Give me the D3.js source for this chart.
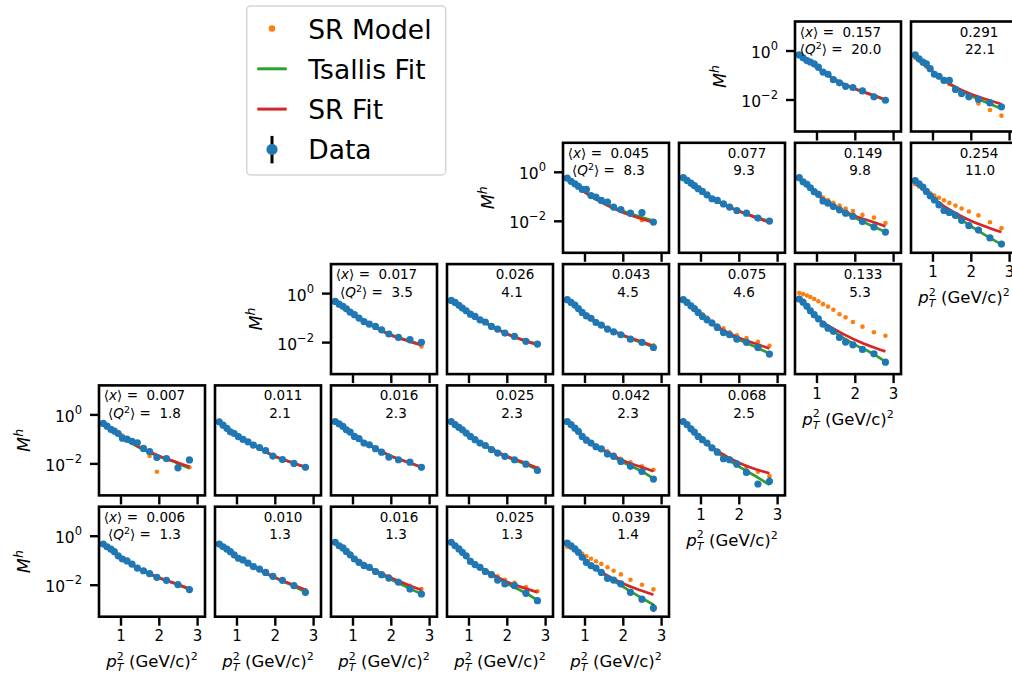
<!DOCTYPE html>
<html>
<head>
<meta charset="utf-8">
<script src="https://cdn.jsdelivr.net/npm/d3@7"></script>
<style>
   body { margin: 0; background: #fff; }
   svg { display: block; font-family: "DejaVu Sans", sans-serif; }
   text { white-space: pre; }
</style>
</head>
<body>
<svg id="chart" width="1012" height="678"></svg>
<script>
/** DATA **/
// p_T^2 bins of the data points (GeV/c)^2
var pT2 = [0.55, 0.65, 0.75, 0.84, 0.94, 1.05, 1.17, 1.3, 1.44, 1.6, 1.76, 1.95, 2.2, 2.5, 2.8];
// p_T^2 where the fit curves were read
var fitPT2 = [0.55, 0.8, 1.1, 1.5, 2.0, 2.5, 2.8];

// one entry per panel, row by row
var panelRow = [0, 0, 1, 1, 1, 1, 2, 2, 2, 2, 2, 3, 3, 3, 3, 3, 3, 4, 4, 4, 4, 4];
var panelCol = [6, 7, 4, 5, 6, 7, 2, 3, 4, 5, 6, 0, 1, 2, 3, 4, 5, 0, 1, 2, 3, 4];
var meanX = [0.157, 0.291, 0.045, 0.077, 0.149, 0.254, 0.017, 0.026, 0.043, 0.075, 0.133,
   0.007, 0.011, 0.016, 0.025, 0.042, 0.068, 0.006, 0.010, 0.016, 0.025, 0.039];
var meanQ2 = [20.0, 22.1, 8.3, 9.3, 9.8, 11.0, 3.5, 4.1, 4.5, 4.6, 5.3,
   1.8, 2.1, 2.3, 2.3, 2.3, 2.5, 1.3, 1.3, 1.3, 1.3, 1.4];

// log10(M^h)
var dataLogM = [
   [-0.18,-0.30,-0.41,-0.47,-0.54,-0.68,-0.88,-0.97,-1.19,-1.32,-1.46,-1.51,-1.65,-1.89,-2.03],
   [-0.18,-0.34,-0.47,-0.54,-0.74,-0.97,-1.05,-1.22,-1.22,-1.59,-1.76,-1.89,-2.00,-2.14,-2.30],
   [-0.26,-0.39,-0.49,-0.59,-0.72,-0.72,-0.97,-1.03,-1.17,-1.24,-1.44,-1.54,-1.69,-1.67,-2.05],
   [-0.24,-0.35,-0.46,-0.56,-0.69,-0.80,-0.94,-1.10,-1.17,-1.31,-1.44,-1.58,-1.69,-1.89,-2.01],
   [-0.24,-0.41,-0.51,-0.65,-0.81,-0.92,-1.19,-1.28,-1.42,-1.55,-1.69,-1.82,-2.03,-2.25,-2.46],
   [-0.36,-0.49,-0.62,-0.80,-0.98,-1.15,-1.35,-1.58,-1.66,-1.78,-1.98,-2.20,-2.38,-2.70,-2.95],
   [-0.34,-0.45,-0.54,-0.64,-0.78,-0.88,-1.02,-1.16,-1.27,-1.36,-1.50,-1.67,-1.81,-1.90,-2.01],
   [-0.30,-0.38,-0.50,-0.61,-0.72,-0.86,-0.95,-1.09,-1.18,-1.36,-1.47,-1.63,-1.77,-1.97,-2.08],
   [-0.27,-0.38,-0.49,-0.63,-0.79,-0.93,-1.03,-1.20,-1.31,-1.47,-1.58,-1.70,-1.88,-2.01,-2.22],
   [-0.27,-0.38,-0.52,-0.63,-0.79,-0.95,-1.09,-1.22,-1.40,-1.61,-1.70,-1.88,-2.01,-2.22,-2.49],
   [-0.24,-0.37,-0.54,-0.72,-0.88,-1.05,-1.27,-1.43,-1.56,-1.81,-2.00,-2.11,-2.30,-2.48,-2.82],
   [-0.37,-0.48,-0.61,-0.68,-0.78,-0.97,-1.01,-1.10,-1.16,-1.39,-1.52,-1.76,-1.80,-2.18,-1.86],
   [-0.30,-0.44,-0.57,-0.71,-0.78,-0.91,-1.02,-1.12,-1.25,-1.35,-1.48,-1.70,-1.84,-2.00,-2.16],
   [-0.29,-0.39,-0.49,-0.63,-0.72,-0.90,-0.99,-1.17,-1.24,-1.40,-1.54,-1.74,-1.85,-1.95,-2.16],
   [-0.29,-0.42,-0.53,-0.63,-0.76,-0.90,-1.03,-1.17,-1.27,-1.44,-1.58,-1.71,-1.85,-2.03,-2.29],
   [-0.29,-0.42,-0.56,-0.69,-0.90,-1.05,-1.17,-1.32,-1.41,-1.62,-1.71,-1.92,-2.12,-2.33,-2.64],
   [-0.29,-0.42,-0.59,-0.72,-0.90,-1.03,-1.17,-1.37,-1.54,-1.81,-1.85,-2.03,-2.37,-2.84,-2.73],
   [-0.34,-0.45,-0.55,-0.65,-0.82,-0.95,-1.03,-1.16,-1.32,-1.43,-1.55,-1.70,-1.82,-2.00,-2.20],
   [-0.34,-0.45,-0.55,-0.65,-0.78,-0.92,-0.99,-1.12,-1.26,-1.36,-1.50,-1.66,-1.82,-2.04,-2.31],
   [-0.27,-0.41,-0.50,-0.64,-0.78,-0.95,-1.09,-1.22,-1.29,-1.46,-1.59,-1.73,-1.90,-2.18,-2.38],
   [-0.27,-0.41,-0.54,-0.68,-0.82,-1.05,-1.18,-1.29,-1.46,-1.59,-1.81,-1.97,-2.04,-2.35,-2.65],
   [-0.30,-0.41,-0.54,-0.68,-0.88,-1.09,-1.22,-1.32,-1.50,-1.74,-1.81,-1.97,-2.31,-2.59,-2.95]
];
var modelLogM = [
   [-0.20,-0.31,-0.41,-0.49,-0.57,-0.69,-0.86,-0.97,-1.15,-1.30,-1.42,-1.53,-1.68,-1.86,-2.02],
   [-0.30,-0.41,-0.55,-0.66,-0.78,-0.95,-1.10,-1.25,-1.38,-1.60,-1.72,-1.90,-2.16,-2.43,-2.66],
   [-0.27,-0.39,-0.50,-0.61,-0.73,-0.82,-0.95,-1.06,-1.19,-1.33,-1.45,-1.58,-1.76,-1.98,-2.08],
   [-0.24,-0.35,-0.46,-0.56,-0.68,-0.80,-0.94,-1.08,-1.19,-1.32,-1.45,-1.57,-1.71,-1.89,-2.04],
   [-0.24,-0.40,-0.50,-0.63,-0.76,-0.88,-1.05,-1.15,-1.27,-1.38,-1.50,-1.60,-1.76,-1.87,-2.09],
   [-0.51,-0.60,-0.70,-0.80,-0.88,-0.97,-1.06,-1.16,-1.27,-1.38,-1.50,-1.62,-1.78,-2.06,-2.30],
   [-0.34,-0.45,-0.55,-0.65,-0.77,-0.90,-1.03,-1.16,-1.28,-1.40,-1.52,-1.63,-1.79,-1.96,-2.18],
   [-0.30,-0.39,-0.50,-0.60,-0.72,-0.85,-0.96,-1.08,-1.19,-1.35,-1.47,-1.62,-1.78,-1.96,-2.10],
   [-0.27,-0.38,-0.49,-0.62,-0.76,-0.88,-1.01,-1.14,-1.28,-1.43,-1.55,-1.68,-1.85,-2.00,-2.13],
   [-0.27,-0.37,-0.49,-0.60,-0.73,-0.86,-1.00,-1.16,-1.31,-1.44,-1.60,-1.72,-1.83,-1.99,-2.15],
   [ 0.00,-0.04,-0.10,-0.16,-0.24,-0.33,-0.45,-0.55,-0.68,-0.86,-0.99,-1.18,-1.37,-1.60,-1.74],
   [-0.37,-0.47,-0.58,-0.68,-0.78,-0.86,-0.99,-1.12,-1.22,-1.38,-1.70,-2.34,-1.86,-2.05,-2.16],
   [-0.30,-0.43,-0.56,-0.68,-0.79,-0.91,-1.02,-1.13,-1.25,-1.37,-1.50,-1.67,-1.83,-2.00,-2.15],
   [-0.29,-0.39,-0.50,-0.62,-0.73,-0.88,-0.99,-1.14,-1.25,-1.39,-1.53,-1.70,-1.84,-1.97,-2.15],
   [-0.29,-0.42,-0.53,-0.63,-0.76,-0.89,-1.02,-1.15,-1.26,-1.42,-1.55,-1.68,-1.82,-1.99,-2.19],
   [-0.29,-0.42,-0.55,-0.68,-0.86,-1.00,-1.13,-1.27,-1.38,-1.51,-1.64,-1.81,-1.95,-2.12,-2.26],
   [-0.30,-0.42,-0.58,-0.71,-0.88,-1.02,-1.16,-1.33,-1.48,-1.68,-1.80,-1.95,-2.15,-2.34,-2.52],
   [-0.35,-0.46,-0.57,-0.67,-0.80,-0.93,-1.05,-1.18,-1.30,-1.45,-1.57,-1.73,-1.85,-2.02,-2.18],
   [-0.34,-0.45,-0.55,-0.65,-0.78,-0.91,-1.00,-1.12,-1.25,-1.37,-1.50,-1.65,-1.80,-2.00,-2.22],
   [-0.27,-0.40,-0.50,-0.62,-0.75,-0.90,-1.03,-1.15,-1.26,-1.42,-1.55,-1.66,-1.84,-2.04,-2.18],
   [-0.27,-0.40,-0.53,-0.66,-0.80,-0.99,-1.12,-1.25,-1.40,-1.53,-1.66,-1.80,-1.92,-2.10,-2.27],
   [-0.45,-0.50,-0.58,-0.65,-0.74,-0.84,-0.94,-1.04,-1.15,-1.29,-1.43,-1.58,-1.80,-2.00,-2.19]
];
var tsallisLogM = [
   [-0.18,-0.47,-0.80,-1.20,-1.56,-1.85,-2.03],
   [-0.18,-0.58,-0.98,-1.42,-1.85,-2.18,-2.38],
   [-0.26,-0.60,-0.92,-1.27,-1.60,-1.86,-2.00],
   [-0.24,-0.60,-0.88,-1.24,-1.60,-1.87,-2.02],
   [-0.24,-0.60,-1.04,-1.46,-1.88,-2.24,-2.46],
   [-0.36,-0.76,-1.20,-1.68,-2.22,-2.70,-2.97],
   [-0.34,-0.64,-0.95,-1.31,-1.70,-1.96,-2.10],
   [-0.30,-0.56,-0.90,-1.25,-1.66,-1.95,-2.08],
   [-0.27,-0.57,-0.97,-1.37,-1.73,-2.03,-2.20],
   [-0.27,-0.58,-1.00,-1.47,-1.90,-2.24,-2.47],
   [-0.24,-0.64,-1.14,-1.62,-2.10,-2.50,-2.80],
   [-0.37,-0.66,-1.00,-1.36,-1.72,-2.00,-2.20],
   [-0.30,-0.65,-0.95,-1.30,-1.72,-2.00,-2.16],
   [-0.29,-0.57,-0.93,-1.30,-1.70,-1.98,-2.16],
   [-0.29,-0.59,-0.96,-1.34,-1.74,-2.04,-2.27],
   [-0.29,-0.64,-1.09,-1.48,-1.95,-2.33,-2.62],
   [-0.29,-0.66,-1.12,-1.62,-2.12,-2.58,-2.87],
   [-0.34,-0.60,-0.99,-1.37,-1.72,-2.00,-2.19],
   [-0.34,-0.60,-0.95,-1.31,-1.72,-2.06,-2.30],
   [-0.27,-0.58,-1.01,-1.37,-1.78,-2.16,-2.38],
   [-0.27,-0.62,-1.10,-1.50,-1.95,-2.35,-2.63],
   [-0.30,-0.62,-1.12,-1.57,-2.08,-2.55,-2.82]
];
var srFitLogM = [
   [-0.18,-0.47,-0.80,-1.20,-1.56,-1.83,-2.00],
   [-0.18,-0.58,-0.98,-1.40,-1.78,-2.04,-2.19],
   [-0.26,-0.60,-0.93,-1.30,-1.66,-1.92,-2.07],
   [-0.24,-0.60,-0.88,-1.25,-1.61,-1.90,-2.07],
   [-0.24,-0.60,-1.03,-1.43,-1.80,-2.06,-2.23],
   [-0.36,-0.75,-1.17,-1.60,-2.00,-2.30,-2.46],
   [-0.34,-0.64,-0.95,-1.32,-1.72,-1.98,-2.13],
   [-0.30,-0.56,-0.90,-1.26,-1.67,-1.96,-2.10],
   [-0.27,-0.57,-0.97,-1.36,-1.71,-1.99,-2.16],
   [-0.27,-0.58,-0.99,-1.43,-1.82,-2.10,-2.26],
   [-0.25,-0.64,-1.12,-1.50,-1.90,-2.22,-2.38],
   [-0.37,-0.66,-0.99,-1.34,-1.69,-1.97,-2.14],
   [-0.30,-0.65,-0.95,-1.30,-1.71,-1.99,-2.15],
   [-0.29,-0.57,-0.93,-1.30,-1.70,-1.98,-2.15],
   [-0.29,-0.59,-0.95,-1.32,-1.71,-1.99,-2.19],
   [-0.29,-0.64,-1.08,-1.46,-1.88,-2.16,-2.32],
   [-0.29,-0.66,-1.10,-1.55,-1.97,-2.27,-2.40],
   [-0.34,-0.60,-0.98,-1.36,-1.71,-1.99,-2.16],
   [-0.34,-0.60,-0.95,-1.31,-1.70,-2.02,-2.21],
   [-0.27,-0.58,-1.00,-1.35,-1.72,-2.04,-2.22],
   [-0.27,-0.62,-1.09,-1.47,-1.88,-2.16,-2.31],
   [-0.30,-0.62,-1.12,-1.54,-1.95,-2.25,-2.41]
];
// visible error bars: [panel, point, half width in log10]
var errBars = [
   [0, 13, 0.08], [1, 13, 0.07], [1, 14, 0.10],
   [5, 11, 0.06], [5, 12, 0.07], [5, 13, 0.10], [5, 14, 0.12],
   [10, 14, 0.10],
   [11, 11, 0.10], [11, 13, 0.12], [11, 14, 0.12],
   [16, 13, 0.10], [16, 14, 0.15],
   [21, 13, 0.08], [21, 14, 0.15]
];

/** LAYOUT **/
var W = 106, H = 110,
   left0 = 99, top0 = 21.5, stepX = 116, stepY = 121.3;
var blue = '#1f77b4', orange = '#ff7f0e', green = '#2ca02c', red = '#d62728';

var svg = d3.select('#chart');

var x = d3.scaleLinear().domain([0.439, 3.206]).range([0, W]);
var y = d3.scaleLog().domain([Math.pow(10, -3.306), Math.pow(10, 1.184)]).range([H, 0]);

var line = d3.line()
   .x(function(d){ return x(d[0]); })
   .y(function(d){ return y(Math.pow(10, d[1])); })
   .curve(d3.curveMonotoneX);

function hasPanel(r, c){
   for (var k = 0; k < panelRow.length; k++) {
      if (panelRow[k] === r && panelCol[k] === c) return true;
   }
   return false;
}

panelRow.forEach(function(row, i){
   var col = panelCol[i];
   var first = !hasPanel(row, col - 1),
      lowest = !hasPanel(row + 1, col);
   var g = svg.append('g')
      .attr('transform', 'translate(' + (left0 + col * stepX) + ',' + (top0 + row * stepY) + ')');

   // SR model
   g.selectAll('circle.model')
      .data(modelLogM[i])
      .enter()
      .append('circle')
      .attr('class', 'model')
      .attr('cx', function(d, k){ return x(pT2[k]); })
      .attr('cy', function(d){ return y(Math.pow(10, d)); })
      .attr('r', 2.3)
      .attr('fill', orange);

   // fits
   g.append('path')
      .attr('d', line(fitPT2.map(function(p, k){ return [p, tsallisLogM[i][k]]; })))
      .attr('fill', 'none').attr('stroke', green).attr('stroke-width', 2.7);
   g.append('path')
      .attr('d', line(fitPT2.map(function(p, k){ return [p, srFitLogM[i][k]]; })))
      .attr('fill', 'none').attr('stroke', red).attr('stroke-width', 2.7);

   // data with error bars
   errBars.filter(function(e){ return e[0] === i; }).forEach(function(e){
      var v = dataLogM[i][e[1]];
      g.append('line')
         .attr('x1', x(pT2[e[1]])).attr('x2', x(pT2[e[1]]))
         .attr('y1', y(Math.pow(10, v - e[2]))).attr('y2', y(Math.pow(10, v + e[2])))
         .attr('stroke', '#000').attr('stroke-width', 2.3);
   });
   g.selectAll('circle.data')
      .data(dataLogM[i])
      .enter()
      .append('circle')
      .attr('class', 'data')
      .attr('cx', function(d, k){ return x(pT2[k]); })
      .attr('cy', function(d){ return y(Math.pow(10, d)); })
      .attr('r', 3.6)
      .attr('fill', blue);

   // bottom ticks on every panel, labels only on the lowest one of a column
   var xAxis = g.append('g')
      .attr('transform', 'translate(0,' + H + ')')
      .call(d3.axisBottom(x).tickValues([1, 2, 3]).tickSize(9).tickPadding(5)
         .tickFormat(lowest ? d3.format('d') : function(){ return ''; }));
   xAxis.select('.domain').remove();
   xAxis.selectAll('line').attr('stroke', '#000').attr('stroke-width', 2.4);
   xAxis.selectAll('text').attr('font-size', '15px').attr('fill', '#000')
      .attr('font-family', '"DejaVu Sans", sans-serif');

   if (lowest) {
      var xl = g.append('text')
         .attr('x', W / 2).attr('y', H + 50.5)
         .attr('text-anchor', 'middle')
         .attr('font-size', '16.5px');
      xl.append('tspan').attr('font-style', 'italic').text('p');
      xl.append('tspan').attr('font-style', 'italic').attr('font-size', '11px').attr('dy', 4).text('T');
      xl.append('tspan').attr('font-size', '11px').attr('dx', -6.7).attr('dy', -11.5).text('2');
      xl.append('tspan').attr('dy', 7.5).text(' (GeV/c)');
      xl.append('tspan').attr('font-size', '11px').attr('dy', -7).text('2');
   }

   if (first) {
      var yAxis = g.append('g')
         .call(d3.axisLeft(y).tickValues([1, 0.01]).tickSize(9).tickFormat(function(){ return ''; }));
      yAxis.select('.domain').remove();
      yAxis.selectAll('line').attr('stroke', '#000').attr('stroke-width', 2.4);
      [[1, '0'], [0.01, '\u22122']].forEach(function(t){
         var tl = g.append('text')
            .attr('x', -17).attr('y', y(t[0]) + 7.5)
            .attr('text-anchor', 'end')
            .attr('font-size', '15.5px');
         tl.append('tspan').text('10');
         tl.append('tspan').attr('font-size', '11.5px').attr('dy', -8).text(t[1]);
      });
      var yl = g.append('text')
         .attr('transform', 'translate(-69,' + (H / 2) + ') rotate(-90)')
         .attr('text-anchor', 'middle')
         .attr('font-size', '17.5px')
         .attr('font-style', 'italic');
      yl.append('tspan').text('M');
      yl.append('tspan').attr('font-size', '12.5px').attr('dy', -7).text('h');
   }

   // annotation
   var xs = meanX[i].toFixed(3), qs = meanQ2[i].toFixed(1);
   if (first) {
      var a1 = g.append('text').attr('x', 45.5).attr('y', 15)
         .attr('text-anchor', 'middle').attr('font-size', '13.5px');
      a1.append('tspan').text('\u27e8');
      a1.append('tspan').attr('font-style', 'italic').text('x');
      a1.append('tspan').text('\u27e9 =  ' + xs);
      var a2 = g.append('text').attr('x', 45.5).attr('y', 32.7)
         .attr('text-anchor', 'middle').attr('font-size', '13.5px');
      a2.append('tspan').text('\u27e8');
      a2.append('tspan').attr('font-style', 'italic').text('Q');
      a2.append('tspan').attr('font-size', '9.5px').attr('dy', -5).text('2');
      a2.append('tspan').attr('dy', 5).text('\u27e9 =  ' + qs);
   } else {
      g.append('text').attr('x', 68).attr('y', 15)
         .attr('text-anchor', 'middle').attr('font-size', '13.5px').text(xs);
      g.append('text').attr('x', qs.length > 3 ? 69 : 65).attr('y', 32.7)
         .attr('text-anchor', 'middle').attr('font-size', '13.5px').text(qs);
   }

   // frame
   g.append('rect')
      .attr('width', W).attr('height', H)
      .attr('fill', 'none').attr('stroke', '#000').attr('stroke-width', 2.6);
});

/** LEGEND **/
var legend = svg.append('g');
legend.append('rect')
   .attr('x', 246.7).attr('y', 6).attr('width', 199).attr('height', 169).attr('rx', 4)
   .attr('fill', '#fff').attr('stroke', '#d5d5d5').attr('stroke-width', 1.5);
var entries = ['SR Model', 'Tsallis Fit', 'SR Fit', 'Data'];
entries.forEach(function(name, k){
   var cy = 28.5 + k * 40.3;
   if (k === 0) {
      legend.append('circle').attr('cx', 272).attr('cy', cy).attr('r', 3.3).attr('fill', orange);
   } else if (k === 3) {
      legend.append('line').attr('x1', 272).attr('x2', 272).attr('y1', cy - 13.5).attr('y2', cy + 14)
         .attr('stroke', '#000').attr('stroke-width', 3);
      legend.append('circle').attr('cx', 272).attr('cy', cy).attr('r', 5.6).attr('fill', blue);
   } else {
      legend.append('line').attr('x1', 257.3).attr('x2', 286.7).attr('y1', cy).attr('y2', cy)
         .attr('stroke', k === 1 ? green : red).attr('stroke-width', 3);
   }
   legend.append('text')
      .attr('x', 308.3).attr('y', cy + 10)
      .attr('font-size', '26.5px')
      .text(name);
});
</script>
</body>
</html>
